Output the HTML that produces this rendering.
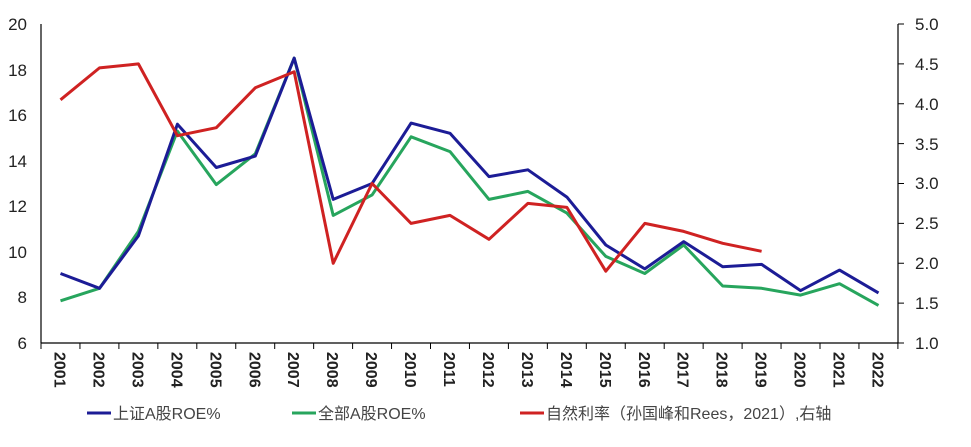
<!DOCTYPE html>
<html><head><meta charset="utf-8"><style>
body{margin:0;background:#fff;}
svg text{font-family:"Liberation Sans","Noto Sans CJK SC",sans-serif;fill:#222;}
</style></head><body>
<svg width="971" height="442" xmlns="http://www.w3.org/2000/svg">
<g font-size="17" text-anchor="end">
<text x="27" y="30">20</text><text x="27" y="76">18</text><text x="27" y="121">16</text><text x="27" y="167">14</text><text x="27" y="212">12</text><text x="27" y="258">10</text><text x="27" y="303">8</text><text x="27" y="349">6</text>
</g>
<g font-size="17" text-anchor="start">
<text x="915" y="30">5.0</text><text x="915" y="70">4.5</text><text x="915" y="110">4.0</text><text x="915" y="150">3.5</text><text x="915" y="189">3.0</text><text x="915" y="229">2.5</text><text x="915" y="269">2.0</text><text x="915" y="309">1.5</text><text x="915" y="349">1.0</text>
</g>
<g stroke="#000" stroke-width="1.2" fill="none">
<line x1="41" y1="24" x2="41" y2="343"/>
<line x1="41" y1="343" x2="898" y2="343"/>
<line x1="898" y1="24" x2="898" y2="343"/>
</g>
<g id="ticks" stroke="#000" stroke-width="1"></g>
<g id="years" font-size="16" font-weight="bold"></g>
<g fill="none" stroke-width="3" stroke-linejoin="round">
<polyline id="g" stroke="#27a55d"/>
<polyline id="b" stroke="#1c1c96"/>
<polyline id="r" stroke="#cf2222"/>
</g>
<g font-size="16">
<line x1="87" y1="413" x2="111" y2="413" stroke="#1c1c96" stroke-width="3"/><text x="113" y="419" style="fill:#444">上证A股ROE%</text>
<line x1="292" y1="413" x2="316" y2="413" stroke="#27a55d" stroke-width="3"/><text x="318" y="419" style="fill:#444">全部A股ROE%</text>
<line x1="520" y1="413" x2="544" y2="413" stroke="#cf2222" stroke-width="3"/><text x="546" y="419" style="fill:#444">自然利率（孙国峰和Rees，2021）,右轴</text>
</g>
</svg>
<script>
var ns="http://www.w3.org/2000/svg";
function X(i){return 60.5+i*38.95;}
function L(v){return 343-(v-6)*22.79;}
function R(v){return 343-(v-1)*79.75;}
var b=[9.05,8.4,10.7,15.6,13.7,14.2,18.5,12.3,13.0,15.65,15.2,13.3,13.6,12.4,10.3,9.25,10.45,9.35,9.45,8.3,9.2,8.2];
var g=[7.85,8.4,10.9,15.3,12.95,14.3,18.5,11.6,12.5,15.05,14.4,12.3,12.65,11.7,9.8,9.05,10.3,8.5,8.4,8.1,8.6,7.65];
var r=[4.05,4.45,4.5,3.6,3.7,4.2,4.4,2.0,3.0,2.5,2.6,2.3,2.75,2.7,1.9,2.5,2.4,2.25,2.15];
function pts(a,f){return a.map(function(v,i){return X(i).toFixed(1)+","+f(v).toFixed(1)}).join(" ");}
document.getElementById("b").setAttribute("points",pts(b,L));
document.getElementById("g").setAttribute("points",pts(g,L));
document.getElementById("r").setAttribute("points",pts(r,R));
var t=document.getElementById("ticks"),y=document.getElementById("years");
for(var i=0;i<=22;i++){var x=41+i*38.95;var l=document.createElementNS(ns,"line");l.setAttribute("x1",x);l.setAttribute("x2",x);l.setAttribute("y1",343);l.setAttribute("y2",349);t.appendChild(l);}
for(var k=0;k<=8;k++){var yy=24+k*39.875;var l=document.createElementNS(ns,"line");l.setAttribute("x1",898);l.setAttribute("x2",904);l.setAttribute("y1",yy);l.setAttribute("y2",yy);t.appendChild(l);}
for(var i=0;i<22;i++){var tx=document.createElementNS(ns,"text");var x=X(i)-6;tx.setAttribute("transform","translate("+x+",352) rotate(90)");tx.textContent=2001+i;y.appendChild(tx);}
</script>
</body></html>
